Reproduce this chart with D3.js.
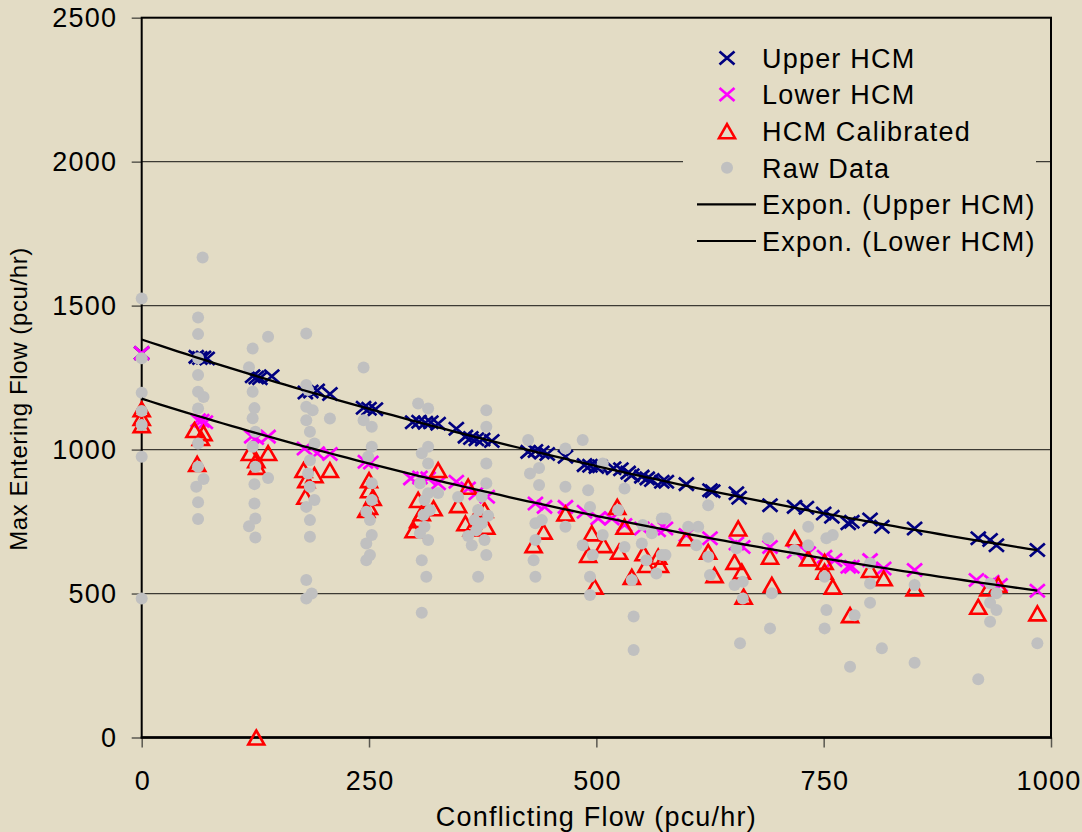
<!DOCTYPE html>
<html>
<head>
<meta charset="utf-8">
<script src="https://cdn.jsdelivr.net/npm/d3@7"></script>
<style>
  html, body { margin: 0; padding: 0; background: #E3DCC5; }
  svg { display: block; font-family: "Liberation Sans", Arial, sans-serif; }
</style>
</head>
<body>
<div id="chart"></div>
<script>
// values: [conflicting flow, max entering flow]
const upperHCM = [
  [0,1335],[60,1322],[64,1318],[68,1320],[72,1316],
  [122,1255],[126,1250],[130,1248],[143,1255],
  [180,1198],[186,1202],[193,1205],[207,1193],
  [244,1145],[250,1142],[257,1140],
  [298,1095],[305,1097],[312,1093],[318,1095],[326,1090],[346,1072],
  [356,1045],[362,1040],[368,1036],[375,1035],[385,1030],
  [425,992],[433,995],[440,990],[446,985],[466,975],
  [487,946],[493,944],[500,940],[504,942],[519,935],[527,932],[535,920],[539,911],
  [550,906],[556,900],[561,894],[572,888],[577,888],
  [599,880],[625,859],[628,855],[654,848],[657,833],[691,807],[718,801],[731,798],
  [750,778],[759,767],[777,744],[781,749],[801,757],[814,732],[850,726],
  [920,692],[933,686],[940,668],[985,651]
];
const lowerHCM = [
  [0,1335],[62,1102],[66,1100],[70,1095],[121,1045],[126,1040],[139,1045],
  [179,1004],[193,987],[207,985],[246,958],[252,955],
  [296,900],[306,903],[315,900],[326,883],[346,888],[359,865],[368,848],[380,836],
  [433,813],[443,801],[466,801],[487,784],[502,761],[517,761],[531,738],[550,726],
  [568,720],[576,726],[599,703],[625,692],[654,674],[661,662],[691,662],[718,645],
  [733,640],[751,628],[762,616],[777,593],[781,593],[801,616],[816,587],[850,582],
  [918,547],[935,541],[944,530],[985,510]
];
const hcmCalibrated = [
  [0,1140],[0,1110],[0,1085],
  [58,1068],[68,1057],[65,1040],[61,950],
  [126,0],[119,988],[139,988],[126,963],[127,940],
  [178,929],[181,894],[180,836],[190,911],[207,929],
  [250,894],[250,859],[254,832],[250,801],[247,790],
  [299,720],[304,755],[308,779],[304,825],[321,796],[326,929],[348,807],[359,871],
  [356,744],[363,726],[379,732],[370,778],[377,790],
  [431,668],[442,715],[466,778],
  [495,709],[491,634],[498,524],[508,668],[523,801],[525,645],[531,732],[539,558],
  [552,640],[555,599],[568,628],[570,599],
  [599,692],[623,645],[630,564],[656,726],[652,610],[660,576],[662,489],[691,628],
  [693,530],[718,692],[733,622],[751,610],[751,576],[760,524],[779,425],[801,582],
  [816,553],[850,518],[920,454],[931,518],[942,530],[985,431]
];
const rawData = [
  [0,1525],[0,1317],[0,1197],[0,1134],[0,1085],[0,975],[0,483],
  [67,1667],[62,1459],[62,1401],[62,1317],[62,1259],[62,1201],[68,1183],[62,1143],
  [62,1021],[62,940],[68,898],[60,871],[62,817],[62,759],
  [122,1351],[139,1392],[118,1286],[122,1201],[124,1144],[122,1109],[125,1062],
  [122,1010],[125,940],[139,901],[124,880],[124,813],[125,761],[118,734],[125,695],
  [181,1403],[181,1224],[183,1207],[181,1149],[188,1137],[181,1102],[185,1062],
  [190,1021],[207,1108],[185,963],[183,917],[185,871],[190,825],[181,801],[185,755],
  [185,697],[181,547],[187,500],[181,483],
  [244,1285],[244,1102],[253,1079],[253,1010],[249,975],[253,883],[253,825],[247,784],
  [251,755],[253,703],[247,674],[251,634],[247,616],
  [304,1160],[315,1143],[315,1010],[308,987],[315,952],[306,883],[315,848],[311,825],
  [317,790],[310,773],[311,732],[306,709],[315,686],[308,616],[313,558],[308,433],
  [326,849],[348,835],
  [379,1137],[379,1079],[379,952],[379,883],[374,836],[370,790],[366,755],[363,668],
  [379,634],[370,558],[377,686],[368,720],[374,744],[381,770],[359,700],
  [425,1033],[427,917],[437,936],[437,877],[440,755],[433,744],[433,686],[431,616],
  [433,558],[466,1004],[466,871],[466,732],
  [485,1033],[491,859],[493,801],[507,952],[507,703],[485,668],[496,634],[493,558],
  [493,495],[531,865],[524,790],[531,662],[539,547],[541,420],[541,304],[551,738],
  [550,674],[555,616],[566,570],[572,761],[572,634],[561,709],
  [576,761],[576,634],[601,732],[612,732],[610,668],[623,807],[623,628],[625,564],
  [654,657],[652,530],[661,541],[661,483],[658,327],[689,692],[693,501],[691,379],
  [718,651],[733,732],[733,668],[753,692],[760,703],[751,558],[753,443],[751,379],
  [779,246],[784,425],
  [801,605],[801,535],[801,468],[814,310],[850,530],[850,260],[920,202],
  [933,535],[940,501],[933,468],[940,443],[933,402],[985,327]
];
const xTicks = [0, 250, 500, 750, 1000];
const yTicks = [0, 500, 1000, 1500, 2000, 2500];
const legendItems = [
  {label: "Upper HCM", kind: "upper"},
  {label: "Lower HCM", kind: "lower"},
  {label: "HCM Calibrated", kind: "cal"},
  {label: "Raw Data", kind: "raw"},
  {label: "Expon. (Upper HCM)", kind: "line"},
  {label: "Expon. (Lower HCM)", kind: "line"}
];

const W = 1082, H = 832;
const bg = "#E3DCC5";
const plotL = 141.7, plotR = 1051, plotT = 17.7, plotB = 737.5;
const fontSize = 27, spacing = 1.2;

const svg = d3.select("#chart").append("svg")
    .attr("width", W)
    .attr("height", H);
svg.append("rect").attr("width", W).attr("height", H).attr("fill", bg);

const x = d3.scaleLinear().domain([0, 1000]).range([plotL, plotR]);
const y = d3.scaleLinear().domain([0, 2500]).range([plotB, plotT]);

// gridlines
svg.append("g")
  .selectAll("line")
  .data(yTicks.filter(d => d > 0 && d < 2500))
  .join("line")
    .attr("x1", plotL).attr("x2", plotR)
    .attr("y1", d => y(d)).attr("y2", d => y(d))
    .attr("stroke", "#3c3a34")
    .attr("stroke-width", 1.2);

// axes
const yAxis = svg.append("g")
    .attr("transform", `translate(${plotL},0)`)
    .call(d3.axisLeft(y).tickValues(yTicks).tickFormat(d3.format("d"))
      .tickSize(10).tickPadding(14.5));
const xAxis = svg.append("g")
    .attr("transform", `translate(0,${plotB})`)
    .call(d3.axisBottom(x).tickValues(xTicks).tickFormat(d3.format("d"))
      .tickSize(10).tickPadding(23));
[yAxis, xAxis].forEach(g => {
  g.select(".domain").remove();
  g.selectAll(".tick line").attr("stroke", "#5a5850").attr("stroke-width", 1.5);
  g.selectAll(".tick text")
    .attr("fill", "#000")
    .style("font-size", fontSize + "px")
    .style("letter-spacing", spacing + "px")
    .style("font-family", '"Liberation Sans", Arial, sans-serif');
});
// the last label sits against the right edge of the picture
xAxis.selectAll(".tick text").attr("dx", d => d === 1000 ? -2.5 : spacing / 2);

// plot frame
svg.append("rect")
    .attr("x", plotL).attr("y", plotT)
    .attr("width", plotR - plotL).attr("height", plotB - plotT)
    .attr("fill", "none")
    .attr("stroke", "#000")
    .attr("stroke-width", 2);
svg.append("line")
    .attr("x1", plotL - 1).attr("x2", plotR + 1)
    .attr("y1", plotB).attr("y2", plotB)
    .attr("stroke", "#000").attr("stroke-width", 2.6);

// marker shapes
const xMark = "M-7.5,-6.5L7.5,6.5M-7.5,6.5L7.5,-6.5";
const triMark = "M0,-7L8,7L-8,7Z";

function drawMarks(data, kind) {
  const g = svg.append("g");
  if (kind === "raw") {
    g.selectAll("circle").data(data).join("circle")
      .attr("cx", d => x(d[0])).attr("cy", d => y(d[1]))
      .attr("r", 6).attr("fill", "#C0C0C0");
  } else if (kind === "cal") {
    g.selectAll("path").data(data).join("path")
      .attr("transform", d => `translate(${x(d[0])},${y(d[1])})`)
      .attr("d", triMark)
      .attr("fill", "none").attr("stroke", "#FF0000").attr("stroke-width", 2.6);
  } else {
    g.selectAll("path").data(data).join("path")
      .attr("transform", d => `translate(${x(d[0])},${y(d[1])})`)
      .attr("d", xMark)
      .attr("fill", "none")
      .attr("stroke", kind === "upper" ? "#000080" : "#FF00FF")
      .attr("stroke-width", 2.7);
  }
}
drawMarks(upperHCM, "upper");
drawMarks(lowerHCM, "lower");
drawMarks(hcmCalibrated, "cal");
drawMarks(rawData, "raw");

// exponential trendlines, least squares on ln(y) like Excel does
function expFit(pts) {
  const n = pts.length;
  let sx = 0, sy = 0, sxx = 0, sxy = 0;
  pts.forEach(([px, py]) => {
    const ly = Math.log(py);
    sx += px; sy += ly; sxx += px * px; sxy += px * ly;
  });
  const b = (n * sxy - sx * sy) / (n * sxx - sx * sx);
  const a = Math.exp((sy - b * sx) / n);
  return {a, b, x0: d3.min(pts, d => d[0]), x1: d3.max(pts, d => d[0])};
}
const line = d3.line().x(d => x(d[0])).y(d => y(d[1]));
[upperHCM, lowerHCM].forEach(series => {
  const f = expFit(series);
  const pts = d3.range(0, 101).map(i => {
    const xv = f.x0 + (f.x1 - f.x0) * i / 100;
    return [xv, f.a * Math.exp(f.b * xv)];
  });
  svg.append("path")
    .attr("d", line(pts))
    .attr("fill", "none")
    .attr("stroke", "#000")
    .attr("stroke-width", 2.3);
});

// legend
const legend = svg.append("g");
legend.append("rect")
    .attr("x", 683).attr("y", 32)
    .attr("width", 353).attr("height", 230)
    .attr("fill", bg);
const item = legend.selectAll("g.item")
  .data(legendItems)
  .join("g")
    .attr("class", "item")
    .attr("transform", (d, i) => `translate(0,${58 + i * 36.6})`);
item.each(function(d) {
  const g = d3.select(this);
  if (d.kind === "line") {
    g.append("line").attr("x1", 697).attr("x2", 756)
      .attr("stroke", "#000").attr("stroke-width", 2.2);
  } else if (d.kind === "raw") {
    g.append("circle").attr("cx", 727).attr("r", 6).attr("fill", "#C0C0C0");
  } else if (d.kind === "cal") {
    g.append("path").attr("transform", "translate(727,0)").attr("d", triMark)
      .attr("fill", "none").attr("stroke", "#FF0000").attr("stroke-width", 2.6);
  } else {
    g.append("path").attr("transform", "translate(727,0)").attr("d", xMark)
      .attr("fill", "none")
      .attr("stroke", d.kind === "upper" ? "#000080" : "#FF00FF")
      .attr("stroke-width", 2.7);
  }
  g.append("text")
    .attr("x", 762)
    .attr("dy", "0.36em")
    .style("font-size", fontSize + "px")
    .style("letter-spacing", spacing + "px")
    .text(d.label);
});

// axis titles
svg.append("text")
    .attr("x", (plotL + plotR) / 2)
    .attr("y", 826)
    .attr("text-anchor", "middle")
    .style("font-size", fontSize + "px")
    .style("letter-spacing", spacing + "px")
    .text("Conflicting Flow (pcu/hr)");
svg.append("text")
    .attr("transform", "translate(27,399) rotate(-90)")
    .attr("text-anchor", "middle")
    .style("font-size", "24px")
    .style("letter-spacing", "0.6px")
    .text("Max Entering Flow (pcu/hr)");
</script>
</body>
</html>
